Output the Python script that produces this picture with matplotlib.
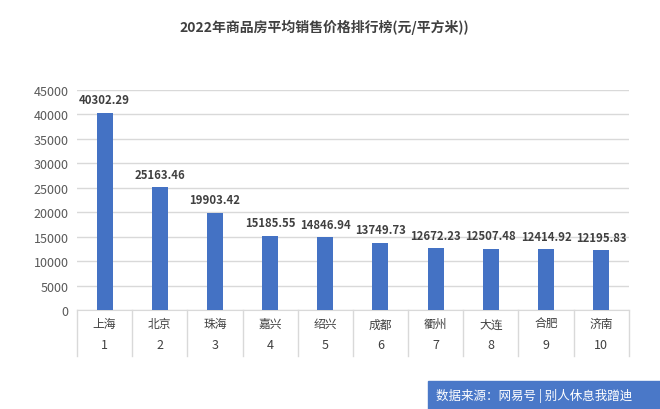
import matplotlib
matplotlib.use('Agg')
import matplotlib.pyplot as plt
import numpy as np

plt.rcParams['font.family'] = ['Noto Sans CJK SC', 'DejaVu Sans']

#数据
cities = ['上海', '北京', '珠海', '嘉兴', '绍兴', '成都', '衢州', '大连', '合肥', '济南']
ranks = ['1', '2', '3', '4', '5', '6', '7', '8', '9', '10']
prices = [40302.29, 25163.46, 19903.42, 15185.55, 14846.94, 13749.73,
          12672.23, 12507.48, 12414.92, 12195.83]
yticks = [0, 5000, 10000, 15000, 20000, 25000, 30000, 35000, 40000, 45000]

fig = plt.figure(figsize=(6.6, 4.1), dpi=100)
ax = fig.add_axes([0.1167, 0.2415, 0.836, 0.537])

x = np.arange(len(cities))
ax.bar(x, prices, width=0.29, color='#4472C4', zorder=3)
for xi, v in zip(x, prices):
    ax.text(xi, v + 1300, f'{v:.2f}', ha='center', va='bottom', fontsize=8.2,
            fontweight='bold', color='#404040')

ax.set_xlim(-0.5, len(cities) - 0.5)
ax.set_ylim(0, 45000)
ax.set_yticks(yticks)
ax.set_yticklabels([str(t) for t in yticks], fontsize=9, color='#595959')
ax.yaxis.grid(True, color='#D9D9D9', linewidth=1, zorder=0)
ax.set_xticks([])
for s in ['top', 'right', 'left']:
    ax.spines[s].set_visible(False)
ax.spines['bottom'].set_color('#D9D9D9')
ax.tick_params(axis='y', length=0, pad=6)

#分组坐标轴
for xi in range(len(cities)):
    ax.text(xi, -0.063, cities[xi], transform=ax.get_xaxis_transform(),
            ha='center', va='center', fontsize=8.5, color='#404040')
    ax.text(xi, -0.155, ranks[xi], transform=ax.get_xaxis_transform(),
            ha='center', va='center', fontsize=9, color='#404040')
for b in np.arange(-0.5, len(cities), 1.0):
    ax.plot([b, b], [0, -0.21], transform=ax.get_xaxis_transform(),
            color='#D9D9D9', linewidth=1, clip_on=False)

fig.text(0.491, 0.932, '2022年商品房平均销售价格排行榜(元/平方米))', ha='center',
         va='center', fontsize=10, fontweight='bold', color='#404040')

#水印
fig.patches.append(plt.Rectangle((0.648, 0.0), 0.352, 0.068, transform=fig.transFigure,
                                 color='#4A78C8', zorder=5))
fig.text(0.66, 0.034, '数据来源：网易号 | 别人休息我蹭迪', ha='left', va='center',
         fontsize=9, color='white', zorder=6)

fig.savefig('out.png', dpi=100)
